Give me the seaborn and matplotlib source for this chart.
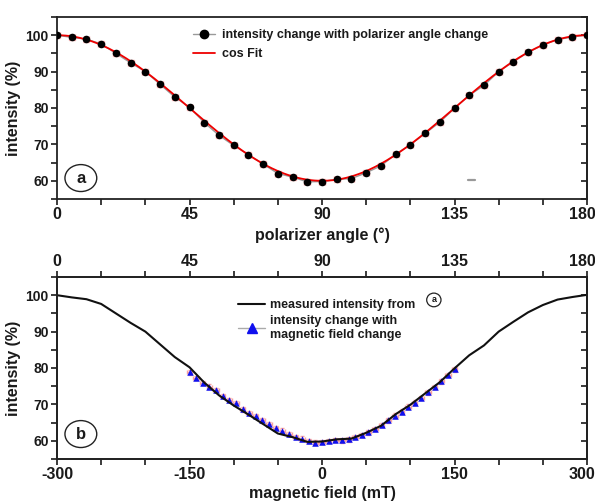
import numpy as np
import pandas as pd
import matplotlib
matplotlib.use("Agg")
import matplotlib.pyplot as plt
import seaborn as sns
from matplotlib.lines import Line2D
from matplotlib.patches import Ellipse
from matplotlib.ticker import MultipleLocator
from matplotlib.transforms import ScaledTranslation

# ---- data -------------------------------------------------------------
angle_deg = list(range(0, 181, 5))
intensity_pct = [100.0, 99.4, 98.9, 97.6, 95.0, 92.4, 90.0, 86.5, 83.0, 80.2,
                 76.0, 72.5, 69.7, 67.2, 64.6, 62.0, 61.0, 59.7, 59.8, 60.4,
                 60.6, 62.2, 64.1, 67.3, 69.9, 73.0, 76.1, 79.9, 83.5, 86.2,
                 90.0, 92.7, 95.3, 97.3, 98.8, 99.5, 100.1]

# cos^2 fit parameters: I = offset + amplitude * cos^2(theta)
fit_offset = 60.0
fit_amplitude = 40.0

# magnetic-field sweep
field_mT = [-150.0, -142.5, -135.0, -127.5, -120.0, -112.5, -105.0, -97.5,
            -90.0, -82.5, -75.0, -67.5, -60.0, -52.5, -45.0, -37.5, -30.0,
            -22.5, -15.0, -7.5, 0.0, 7.5, 15.0, 22.5, 30.0, 37.5, 45.0, 52.5,
            60.0, 67.5, 75.0, 82.5, 90.0, 97.5, 105.0, 112.5, 120.0, 127.5,
            135.0, 142.5, 150.0]
field_intensity_pct = [78.8, 77.3, 75.8, 74.9, 73.9, 72.3, 71.2, 70.3, 68.6,
                       67.6, 66.8, 65.6, 64.6, 63.6, 62.8, 61.9, 61.0, 60.6,
                       60.0, 59.5, 59.6, 60.0, 60.2, 60.1, 60.4, 61.0, 61.6,
                       62.3, 63.2, 64.3, 65.6, 66.9, 68.0, 69.4, 70.5, 71.8,
                       73.3, 74.8, 76.3, 78.0, 79.6]

# small stray segment inside panel (a)
stray_x = [139.5, 142.0]
stray_y = [60.3, 60.3]

# angle -> field conversion (0..180 deg  <->  -300..300 mT)
mT_per_deg = 300.0 / 90.0

df_a = pd.DataFrame({"angle": angle_deg, "intensity": intensity_pct})
df_a["field"] = (df_a["angle"] - 90) * mT_per_deg
theta_fit = np.linspace(0, 180, 361)
df_fit = pd.DataFrame({"angle": theta_fit,
                       "intensity": fit_offset + fit_amplitude * np.cos(np.radians(theta_fit)) ** 2})
df_b = pd.DataFrame({"field": field_mT, "intensity": field_intensity_pct})

# ---- style ------------------------------------------------------------
sns.set_theme(style="ticks")
plt.rcParams["font.family"] = ["Liberation Sans", "DejaVu Sans"]
plt.rcParams["font.weight"] = "bold"
plt.rcParams["axes.labelweight"] = "bold"
plt.rcParams["axes.unicode_minus"] = False
plt.rcParams["text.color"] = "#1a1a1a"
plt.rcParams["axes.labelcolor"] = "#1a1a1a"
plt.rcParams["xtick.color"] = "#1a1a1a"
plt.rcParams["ytick.color"] = "#1a1a1a"

fig = plt.figure(figsize=(5.95, 5.03), dpi=100)
ax_a = fig.add_axes([0.0958, 0.6044, 0.8908, 0.3618])
ax_b = fig.add_axes([0.0958, 0.0875, 0.8908, 0.3618])

err_color = "#f7a1a1"
XT_SIZE = 11.5
YT_SIZE = 10
LAB_SIZE = 11.5
LEG_SIZE = 9


def style_spines(ax):
    for s in ax.spines.values():
        s.set_linewidth(1.3)
        s.set_color("#222222")
        s.set_visible(True)


def style_axes(ax):
    style_spines(ax)
    ax.set_ylim(55, 105)
    ax.yaxis.set_major_locator(MultipleLocator(10))
    ax.yaxis.set_minor_locator(MultipleLocator(5))
    ax.tick_params(axis="x", which="major", direction="out", length=4, width=1.2,
                   labelsize=XT_SIZE, top=False, pad=2)
    ax.tick_params(axis="x", which="minor", direction="out", length=4, width=1.2, top=False)
    ax.tick_params(axis="y", which="major", direction="out", length=4, width=1.2,
                   labelsize=YT_SIZE, pad=2)
    ax.tick_params(axis="y", which="minor", direction="out", length=4, width=1.2)
    ax.set_ylabel("intensity (%)", fontsize=LAB_SIZE, fontweight="bold", labelpad=3)
    # right-hand ticks pointing inward
    ax_r = ax.secondary_yaxis("right")
    ax_r.yaxis.set_major_locator(MultipleLocator(10))
    ax_r.yaxis.set_minor_locator(MultipleLocator(5))
    ax_r.tick_params(which="both", direction="in", length=4, width=1.2, labelright=False)
    ax_r.spines["right"].set_linewidth(1.3)


# ---- panel (a) --------------------------------------------------------
ax_a.errorbar(df_a["angle"], df_a["intensity"], yerr=0.7, xerr=1.0, fmt="none",
              ecolor=err_color, elinewidth=1.0, capsize=2, capthick=1.0, zorder=2)
sns.lineplot(data=df_a, x="angle", y="intensity", ax=ax_a, color="#9a9a9a",
             lw=1.0, zorder=3)
sns.lineplot(data=df_fit, x="angle", y="intensity", ax=ax_a, color="#ee0000",
             lw=1.3, zorder=4)
sns.scatterplot(data=df_a, x="angle", y="intensity", ax=ax_a, color="black",
                s=30, linewidth=0, zorder=5)
ax_a.plot(stray_x, stray_y, color="#999999", lw=1.6, zorder=3)

ax_a.set_xlim(0, 180)
ax_a.xaxis.set_major_locator(MultipleLocator(45))
ax_a.xaxis.set_minor_locator(MultipleLocator(15))
style_axes(ax_a)
ax_a.set_xlabel("polarizer angle (°)", fontsize=LAB_SIZE, fontweight="bold", labelpad=4)

h_a = [Line2D([], [], color="#9a9a9a", lw=1.0, marker="o", markersize=6,
              markerfacecolor="black", markeredgecolor="black"),
       Line2D([], [], color="#ee0000", lw=1.3)]
ax_a.legend(h_a, ["intensity change with polarizer angle change", "cos Fit"],
            loc="upper left", bbox_to_anchor=(0.235, 0.995), frameon=False,
            prop={"size": LEG_SIZE, "weight": "bold"}, handlelength=1.8,
            handletextpad=0.5, labelspacing=0.55, borderaxespad=0.5)

ax_a.add_patch(Ellipse((0.045, 0.115), 0.060, 0.148, transform=ax_a.transAxes,
                       fill=False, edgecolor="#222222", lw=1.0))
ax_a.text(0.045, 0.115, "a", transform=ax_a.transAxes, ha="center", va="center",
          fontsize=12, fontweight="bold")

# ---- panel (b) --------------------------------------------------------
ax_b.errorbar(df_b["field"], df_b["intensity"], yerr=0.6, xerr=3.0, fmt="none",
              ecolor=err_color, elinewidth=1.0, capsize=1.5, capthick=1.0, zorder=2)
sns.scatterplot(data=df_b, x="field", y="intensity", ax=ax_b, color="#1010ee",
                marker="^", s=22, linewidth=0, zorder=3)
sns.lineplot(data=df_a, x="field", y="intensity", ax=ax_b, color="#111111",
             lw=1.5, zorder=4)

ax_b.set_xlim(-300, 300)
ax_b.xaxis.set_major_locator(MultipleLocator(150))
ax_b.xaxis.set_minor_locator(MultipleLocator(50))
style_axes(ax_b)
ax_b.set_xlabel("magnetic field (mT)", fontsize=LAB_SIZE, fontweight="bold", labelpad=3)

# top axis in polarizer angle
ax_top = ax_b.twiny()
ax_top.set_xlim(0, 180)
ax_top.xaxis.set_major_locator(MultipleLocator(45))
ax_top.xaxis.set_minor_locator(MultipleLocator(15))
ax_top.tick_params(axis="x", which="both", direction="out", length=4, width=1.2,
                   labelsize=XT_SIZE, pad=2, top=True, bottom=False,
                   labeltop=True, labelbottom=False)
style_spines(ax_top)

h_b = [Line2D([], [], color="#111111", lw=1.5),
       Line2D([], [], color="#aaaaaa", lw=1.0, marker="^", markersize=7,
              markerfacecolor="#1010ee", markeredgecolor="#1010ee")]
ax_b.legend(h_b, ["measured intensity from",
                  "intensity change with\nmagnetic field change"],
            loc="upper left", bbox_to_anchor=(0.32, 0.94), frameon=False,
            prop={"size": LEG_SIZE, "weight": "bold"}, handlelength=2.2,
            handletextpad=0.4, labelspacing=0.3, borderaxespad=0.5)

ax_b.add_patch(Ellipse((0.045, 0.137), 0.060, 0.148, transform=ax_b.transAxes,
                       fill=False, edgecolor="#222222", lw=1.0))
ax_b.text(0.045, 0.137, "b", transform=ax_b.transAxes, ha="center", va="center",
          fontsize=12, fontweight="bold")

# small circled "a" reference after the legend text
ax_b.add_patch(Ellipse((0.711, 0.874), 0.027, 0.075, transform=ax_b.transAxes,
                       fill=False, edgecolor="#222222", lw=0.9))
ax_b.text(0.711, 0.874, "a", transform=ax_b.transAxes, ha="center", va="center",
          fontsize=6.5, fontweight="bold")

# keep the right-most x tick labels inside the figure
fig.canvas.draw()
shift = ScaledTranslation(6 / 72, 0, fig.dpi_scale_trans)
for axis in (ax_a.xaxis, ax_b.xaxis, ax_top.xaxis):
    for tick in axis.get_major_ticks():
        for lab in (tick.label1, tick.label2):
            lab.set_fontweight("bold")
            if lab.get_text() in ("180", "300"):
                lab.set_horizontalalignment("right")
                lab.set_transform(lab.get_transform() + shift)
for axis in (ax_a.yaxis, ax_b.yaxis):
    for lab in axis.get_ticklabels():
        lab.set_fontweight("bold")

fig.savefig("out.png", dpi=100)
